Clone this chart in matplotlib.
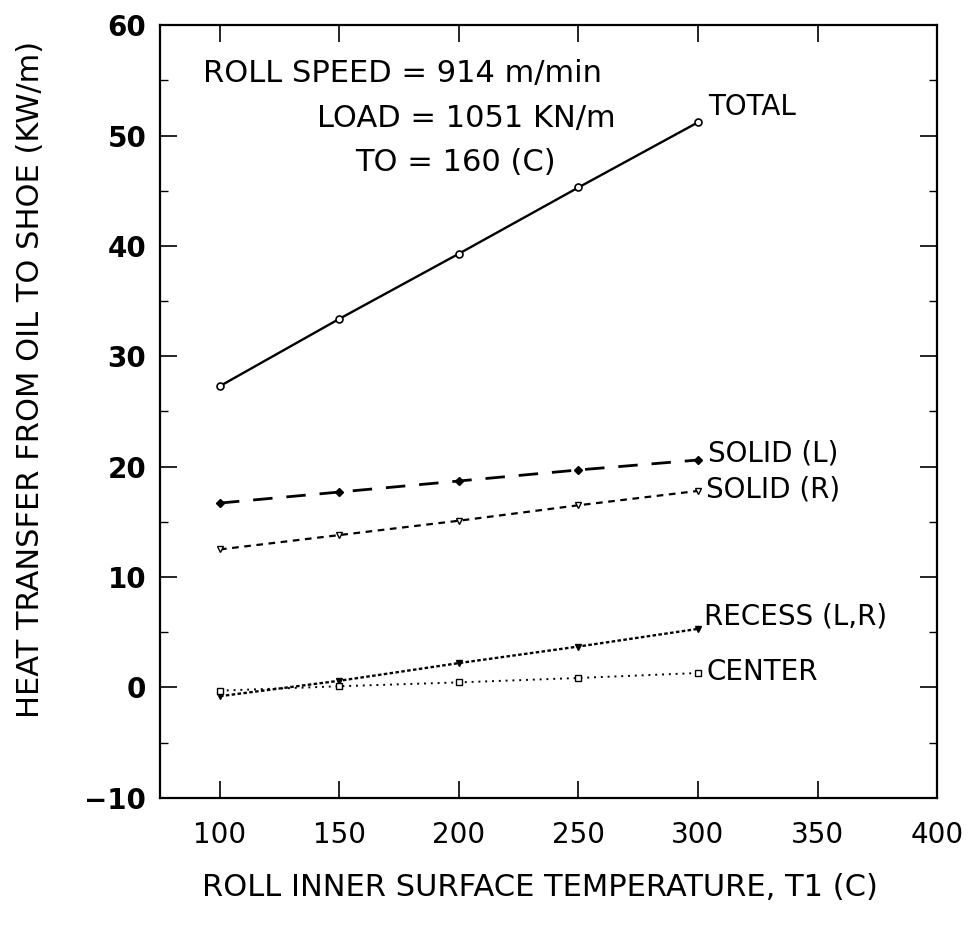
import matplotlib
matplotlib.use("Agg")
import matplotlib.pyplot as plt
from matplotlib.ticker import MultipleLocator, FixedLocator

plt.rcParams['font.family'] = ['DejaVu Sans']

# Roll inner surface temperature T1 (C)
t1 = [100, 150, 200, 250, 300]

# Heat transfer from oil to shoe (kW/m) for each region
total = [27.3, 33.4, 39.3, 45.3, 51.2]
solid_l = [16.7, 17.7, 18.7, 19.7, 20.6]
solid_r = [12.5, 13.8, 15.1, 16.5, 17.8]
recess = [-0.8, 0.6, 2.2, 3.7, 5.3]
center = [-0.3, 0.1, 0.45, 0.85, 1.3]

series_labels = ["TOTAL", "SOLID (L)", "SOLID (R)", "RECESS (L,R)", "CENTER"]

x_ticks = [100, 150, 200, 250, 300, 350, 400]
y_ticks = [-10, 0, 10, 20, 30, 40, 50, 60]

fig = plt.figure(figsize=(9.71, 9.33), dpi=100)
ax = fig.add_axes([0.165, 0.145, 0.800, 0.828])

ms = 5
ax.plot(t1, total, color='black', lw=1.7, ls='-', marker='o', ms=ms,
        mfc='white', mec='black', mew=1.2)
ax.plot(t1, solid_l, color='black', lw=2.0, ls=(0, (7, 5)), marker='D', ms=4.5,
        mfc='black', mec='black')
ax.plot(t1, solid_r, color='black', lw=1.6, ls=(0, (3, 2.5)), marker='v', ms=ms,
        mfc='white', mec='black', mew=1.0)
ax.plot(t1, recess, color='black', lw=1.7, ls=(0, (1.5, 1)), marker='v', ms=ms,
        mfc='black', mec='black')
ax.plot(t1, center, color='black', lw=1.4, ls=(0, (1, 2.5)), marker='s', ms=4.5,
        mfc='white', mec='black', mew=1.0)

# curve labels placed beside the last point of each series
label_offsets = [(7, 11), (7, 5), (6, 1), (4, 9), (6, 1)]
for lab, ys, off in zip(series_labels, [total, solid_l, solid_r, recess, center], label_offsets):
    ax.annotate(lab, xy=(t1[-1], ys[-1]), xytext=off, textcoords='offset points',
                fontsize=20, ha='left', va='center', color='black')

ax.set_xlim(75, 400)
ax.set_ylim(-10, 60)
ax.xaxis.set_major_locator(FixedLocator(x_ticks))
ax.yaxis.set_major_locator(FixedLocator(y_ticks))
ax.yaxis.set_minor_locator(MultipleLocator(5))

ax.tick_params(axis='x', which='major', direction='in', length=12, width=1.2,
               top=True, labelsize=20, pad=17)
ax.tick_params(axis='y', which='major', direction='in', length=12, width=1.2,
               right=True, labelsize=20, pad=10)
ax.tick_params(axis='y', which='minor', direction='in', length=6, width=1.0,
               left=True, right=True)
for lbl in ax.get_yticklabels():
    lbl.set_fontweight('bold')

for sp in ax.spines.values():
    sp.set_linewidth(1.6)

ax.set_xlabel("ROLL INNER SURFACE TEMPERATURE, T1 (C)", fontsize=22)
ax.set_ylabel("HEAT TRANSFER FROM OIL TO SHOE (KW/m)", fontsize=22)
ax.xaxis.set_label_coords(0.489, -0.097)
ax.yaxis.set_label_coords(-0.148, 0.541)

ax.text(0.055, 0.938, "ROLL SPEED = 914 m/min", transform=ax.transAxes,
        fontsize=22, ha='left', va='center')
ax.text(0.202, 0.879, "LOAD = 1051 KN/m", transform=ax.transAxes,
        fontsize=22, ha='left', va='center')
ax.text(0.251, 0.822, "TO = 160 (C)", transform=ax.transAxes,
        fontsize=22, ha='left', va='center')

fig.savefig("out.png", dpi=100, facecolor='white')
